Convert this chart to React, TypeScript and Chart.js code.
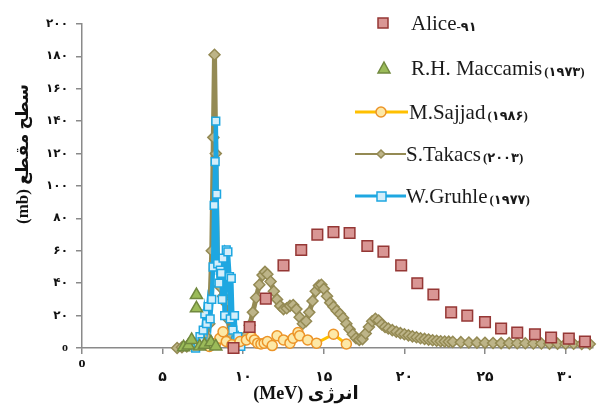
import React, { useEffect, useRef } from 'react';
import { Chart, registerables } from 'chart.js';

Chart.register(...registerables);

// ---------- data ----------
const aliceE = [9.4, 10.4, 11.4, 12.5, 13.6, 14.6, 15.6, 16.6, 17.7, 18.7, 19.8, 20.8, 21.8, 22.9, 23.9, 25.0, 26.0, 27.0, 28.1, 29.1, 30.2, 31.2];
const aliceXS = [0, 13, 30.5, 51, 60.5, 70, 71.5, 71, 63, 59.5, 51, 40, 33, 22, 20, 16, 12, 9.5, 8.5, 6.5, 5.8, 4];

const maccE = [6.3, 6.6, 6.8, 7.1, 7.1, 7.3, 7.6, 8.0, 8.3];
const maccXS = [0.5, 1.5, 5, 24.5, 32.7, 1, 2, 3.5, 1];

const sajjadE = [7.9, 8.3, 8.55, 8.75, 8.95, 9.3, 9.8, 10.2, 10.5, 10.7, 10.9, 11.1, 11.3, 11.5, 11.8, 12.1, 12.5, 12.9, 13.1, 13.4, 13.5, 14.0, 14.55, 15.6, 16.4];
const sajjadXS = [1, 3, 6, 10, 4, 2, 4, 5, 7, 5, 3, 2.5, 3, 4, 1.5, 7.5, 5, 3, 6, 9.5, 7.5, 5, 3, 8.5, 2.5];

const takacsE = [5.9, 6.2, 6.5, 6.8, 7.1, 7.4, 7.7, 7.9, 8.05, 8.15, 8.22, 8.3, 8.4, 8.55, 8.75, 8.9, 9.05, 9.2, 9.4, 9.6, 9.8,
  10.0, 10.2, 10.4, 10.6, 10.8, 11.0, 11.2, 11.35, 11.5, 11.7, 11.9, 12.1, 12.3, 12.5, 12.7, 12.9, 13.1, 13.3, 13.5, 13.7, 13.9,
  14.1, 14.3, 14.5, 14.7, 14.85, 15.0, 15.2, 15.4, 15.6, 15.8, 16.0, 16.2, 16.4, 16.6, 16.8, 17.0, 17.2, 17.4, 17.6, 17.8, 18.0,
  18.2, 18.4, 18.6, 18.8, 19.0, 19.25, 19.5, 19.75, 20.0, 20.25, 20.5, 20.75, 21.0, 21.25, 21.5, 21.75, 22.0, 22.25, 22.5, 22.75,
  23.0, 23.5, 24.0, 24.5, 25.0, 25.5, 26.0, 26.5, 27.0, 27.5, 28.0, 28.5, 29.0, 29.5, 30.0, 30.5, 31.0, 31.5];
const takacsXS = [0, 0.5, 1, 2, 3, 4, 7, 15, 60, 130, 181, 120, 55, 38, 32, 28, 18, 9, 4, 2, 2.5,
  4, 8, 14, 22, 31, 39, 45, 47, 45.5, 41, 35, 30, 26, 24, 24.5, 26, 26.5, 24, 19, 15, 16.5,
  22, 29, 35, 38.5, 39, 36.5, 32, 28, 25.5, 23, 21, 18.5, 15, 11.5, 8.5, 6, 5, 5.5, 9, 13, 16.5,
  18, 17, 14.5, 13, 12, 11, 10, 9.2, 8.5, 7.8, 7.2, 6.6, 6, 5.6, 5.2, 4.8, 4.5, 4.2, 4, 3.9,
  3.8, 3.6, 3.4, 3.3, 3.2, 3.1, 3, 3, 2.9, 2.9, 2.8, 2.8, 2.7, 2.7, 2.6, 2.6, 2.5, 2.5];

const gruhleE = [7.05, 7.2, 7.32, 7.45, 7.52, 7.62, 7.73, 7.83, 7.95, 8.05, 8.13, 8.2, 8.26, 8.3, 8.35, 8.42, 8.5, 8.58, 8.64, 8.7, 8.75, 8.85, 8.95, 9.05, 9.15, 9.2, 9.26, 9.35, 9.46, 9.55, 9.66, 9.75, 9.85];
const gruhleXS = [0, 3, 7, 4, 11, 21, 15, 25.5, 18, 30, 50, 88, 115, 140, 95, 52, 40, 48, 46, 30, 55.5, 20, 60.5, 59.4, 44, 18, 43, 11, 20, 5, 7, 2, 1];

const xTickValues = [0, 5, 10, 15, 20, 25, 30];
const xTickLabels = ['o', '۵', '۱۰', '۱۵', '۲۰', '۲۵', '۳۰'];
const yTickValues = [0, 20, 40, 60, 80, 100, 120, 140, 160, 180, 200];
const yTickLabels = ['o', '۲۰', '۴۰', '۶۰', '۸۰', '۱۰۰', '۱۲۰', '۱۴۰', '۱۶۰', '۱۸۰', '۲۰۰'];

const xTitle = 'انرژی (MeV)';
const yTitle = 'سطح مقطع (mb)';

const legendNames = ['Alice', 'R.H. Maccamis', 'M.Sajjad', 'S.Takacs', 'W.Gruhle'];
const legendSuffixes = ['-۹۱', '(۱۹۷۳)', '(۱۹۸۶)', '(۲۰۰۳)', '(۱۹۷۷)'];

// ---------- styles ----------
const C = {
  aliceFill: '#d99694', aliceBorder: '#953735',
  maccFill: '#9bbb59', maccBorder: '#71893f',
  sajjadLine: '#ffc000', sajjadPt: '#ec9428', sajjadFill: '#fde8a6',
  takacs: '#948a54', takacsFill: '#bdb488',
  gruhle: '#1ea7e1', gruhleFill: '#d4eefa',
  axis: '#8a8a8a',
};
const SERIF = "'Liberation Serif', 'Times New Roman', 'DejaVu Sans', serif";

const pts = (xs: number[], ys: number[]) => xs.map((x, i) => ({ x, y: ys[i] }));

const overlay = {
  id: 'overlay',
  afterDraw(chart: any) {
    const ctx: CanvasRenderingContext2D = chart.ctx;
    ctx.save();
    ctx.fillStyle = '#111';
    ctx.textBaseline = 'middle';
    ctx.textAlign = 'center';
    ctx.font = `bold 18px ${SERIF}`;
    (ctx as any).direction = 'rtl';
    ctx.fillText(xTitle, 306, 394);
    ctx.save();
    ctx.translate(24, 154);
    ctx.rotate(-Math.PI / 2);
    ctx.font = `bold 17px ${SERIF}`;
    ctx.fillText(yTitle, 0, 0);
    ctx.restore();
    (ctx as any).direction = 'ltr';

    // legend
    const ys = [23, 68, 112, 154, 196];
    const tx = [411, 411, 409, 406, 406];
    const mx = 383;
    ctx.fillStyle = C.aliceFill; ctx.strokeStyle = C.aliceBorder; ctx.lineWidth = 1.5;
    ctx.fillRect(mx - 5, ys[0] - 5, 10, 10); ctx.strokeRect(mx - 5, ys[0] - 5, 10, 10);
    ctx.fillStyle = C.maccFill; ctx.strokeStyle = C.maccBorder;
    ctx.beginPath();
    ctx.moveTo(mx + 1, ys[1] - 6); ctx.lineTo(mx + 7, ys[1] + 5); ctx.lineTo(mx - 5, ys[1] + 5); ctx.closePath();
    ctx.fill(); ctx.stroke();
    ctx.strokeStyle = C.sajjadLine; ctx.lineWidth = 3;
    ctx.beginPath(); ctx.moveTo(355, ys[2]); ctx.lineTo(408, ys[2]); ctx.stroke();
    ctx.fillStyle = C.sajjadFill; ctx.strokeStyle = C.sajjadPt; ctx.lineWidth = 1.5;
    ctx.beginPath(); ctx.arc(381, ys[2], 5, 0, Math.PI * 2); ctx.fill(); ctx.stroke();
    ctx.strokeStyle = C.takacs; ctx.lineWidth = 2;
    ctx.beginPath(); ctx.moveTo(355, ys[3]); ctx.lineTo(406, ys[3]); ctx.stroke();
    ctx.fillStyle = C.takacsFill; ctx.lineWidth = 1.5;
    ctx.beginPath();
    ctx.moveTo(381, ys[3] - 4); ctx.lineTo(385, ys[3]); ctx.lineTo(381, ys[3] + 4); ctx.lineTo(377, ys[3]); ctx.closePath();
    ctx.fill(); ctx.stroke();
    ctx.strokeStyle = C.gruhle; ctx.lineWidth = 3;
    ctx.beginPath(); ctx.moveTo(355, ys[4]); ctx.lineTo(406, ys[4]); ctx.stroke();
    ctx.fillStyle = C.gruhleFill; ctx.lineWidth = 1.5;
    ctx.fillRect(377, ys[4] - 4, 9, 9); ctx.strokeRect(377, ys[4] - 4, 9, 9);

    ctx.textAlign = 'left';
    ctx.textBaseline = 'alphabetic';
    ctx.fillStyle = '#1a1a1a';
    legendNames.forEach((name, i) => {
      ctx.font = `21px ${SERIF}`;
      const base = ys[i] + 7;
      ctx.fillText(name, tx[i], base);
      const w = ctx.measureText(name).width;
      ctx.font = `bold 13px ${SERIF}`;
      ctx.fillText(legendSuffixes[i], tx[i] + w + (i === 0 ? 0 : 2), base + 1);
    });
    ctx.restore();
  },
};

export default function App() {
  const ref = useRef<HTMLCanvasElement>(null);
  useEffect(() => {
    const chart = new Chart(ref.current as HTMLCanvasElement, {
      type: 'scatter',
      data: {
        datasets: [
          {
            label: 'Alice-۹۱', data: pts(aliceE, aliceXS), order: 0, showLine: false, clip: false,
            pointStyle: 'rect', pointRadius: 7.5, backgroundColor: C.aliceFill, borderColor: C.aliceBorder, borderWidth: 1.5,
          },
          {
            label: 'R.H. Maccamis (۱۹۷۳)', data: pts(maccE, maccXS), order: 1, showLine: false, clip: false,
            pointStyle: 'triangle', pointRadius: 7, backgroundColor: C.maccFill, borderColor: C.maccBorder, borderWidth: 1.5,
          },
          {
            label: 'M.Sajjad (۱۹۸۶)', data: pts(sajjadE, sajjadXS), order: 2, showLine: true, clip: false,
            borderColor: C.sajjadLine, borderWidth: 3,
            pointStyle: 'circle', pointRadius: 5, pointBackgroundColor: C.sajjadFill, pointBorderColor: C.sajjadPt, pointBorderWidth: 1.5,
          },
          {
            label: 'W.Gruhle (۱۹۷۷)', data: pts(gruhleE, gruhleXS), order: 3, showLine: true, clip: false,
            borderColor: C.gruhle, borderWidth: 4.5,
            pointStyle: 'rect', pointRadius: 5.5, pointBackgroundColor: C.gruhleFill, pointBorderColor: C.gruhle, pointBorderWidth: 1.5,
          },
          {
            label: 'S.Takacs (۲۰۰۳)', data: pts(takacsE, takacsXS), order: 4, showLine: true, clip: false,
            borderColor: C.takacs, borderWidth: 5,
            pointStyle: 'rectRot', pointRadius: 5.5, pointBackgroundColor: C.takacsFill, pointBorderColor: C.takacs, pointBorderWidth: 1.5,
          },
        ] as any,
      },
      options: {
        animation: false,
        responsive: false,
        devicePixelRatio: 1,
        layout: { padding: { top: 24, right: 2, left: 0, bottom: 0 } },
        plugins: { legend: { display: false }, tooltip: { enabled: false } },
        scales: {
          x: {
            type: 'linear', min: 0, max: 31.7,
            afterBuildTicks: (s: any) => { s.ticks = xTickValues.map((v) => ({ value: v })); },
            afterFit: (s: any) => { s.height = 58; },
            ticks: {
              autoSkip: false, maxRotation: 0, padding: 2,
              color: '#111', font: { family: SERIF, size: 14, weight: 'bold', lineHeight: 1.0 },
              callback: (v: any) => {
                const i = xTickValues.indexOf(Number(v));
                if (i < 0) return '';
                return i === 0 ? xTickLabels[0] : ['', xTickLabels[i]];
              },
            },
            grid: { display: true, drawOnChartArea: false, drawTicks: true, tickLength: 6, color: C.axis, lineWidth: 1.5 },
            border: { display: true, color: C.axis, width: 1.5 },
          },
          y: {
            type: 'linear', min: 0, max: 200,
            afterBuildTicks: (s: any) => { s.ticks = yTickValues.map((v) => ({ value: v })); },
            afterFit: (s: any) => { s.width = 82; },
            ticks: {
              autoSkip: false, padding: 8,
              color: '#111', font: { family: SERIF, size: 12, weight: 'bold' },
              callback: (v: any) => {
                const i = yTickValues.indexOf(Number(v));
                return i < 0 ? '' : yTickLabels[i];
              },
            },
            grid: { display: true, drawOnChartArea: false, drawTicks: true, tickLength: 6, color: C.axis, lineWidth: 1.5 },
            border: { display: true, color: C.axis, width: 1.5 },
          },
        },
      } as any,
      plugins: [overlay],
    });
    return () => chart.destroy();
  }, []);
  return (
    <canvas
      ref={ref}
      width={602}
      height={406}
      style={{ position: 'absolute', left: 0, top: 0, width: 602, height: 406 }}
    />
  );
}
